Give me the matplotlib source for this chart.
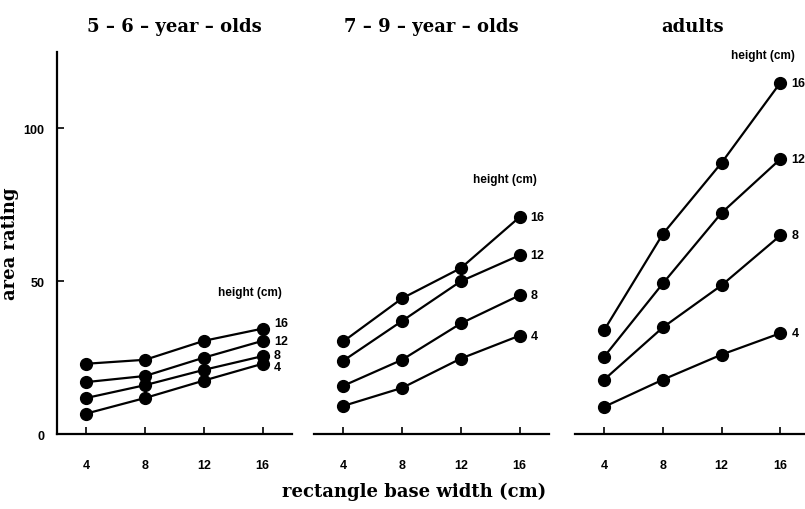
import matplotlib.pyplot as plt

# rectangle base width (cm)
widths = [4, 8, 12, 16]
heights = [16, 12, 8, 4]

titles = ["5 \u2013 6 \u2013 year \u2013 olds", "7 \u2013 9 \u2013 year \u2013 olds", "adults"]

# area ratings, one list per height (16, 12, 8, 4)
young = [[23.0, 24.3, 30.5, 34.5],
         [17.0, 19.0, 25.0, 30.5],
         [11.8, 16.0, 21.0, 25.5],
         [6.7, 11.8, 17.5, 23.0]]
middle = [[30.3, 44.4, 54.3, 71.0],
          [24.0, 37.0, 50.0, 58.5],
          [15.8, 24.3, 36.2, 45.4],
          [9.2, 15.1, 24.7, 32.2]]
adults = [[34.0, 65.5, 88.8, 115.0],
          [25.3, 49.3, 72.4, 90.0],
          [17.8, 34.9, 48.7, 65.0],
          [8.9, 17.8, 26.0, 33.0]]
groups = [young, middle, adults]

# where the "height (cm)" key sits in each panel (data coords)
key_pos = [(15.1, 46.5), (15.0, 83.5), (14.8, 124.0)]
# small vertical nudges (points) for the end labels in the crowded first panel
nudges = [[4, 0, 1, -2], [0, 0, 0, 0], [0, 0, 0, 0]]

serif = ['DejaVu Serif']
narrow = ['Liberation Sans Narrow', 'Liberation Sans', 'DejaVu Sans']

fig = plt.figure(figsize=(8.05, 5.1), dpi=100)
lefts = [0.0708, 0.390, 0.714]

for i in range(3):
    ax = fig.add_axes([lefts[i], 0.147, 0.292, 0.749])
    for series, h, dy in zip(groups[i], heights, nudges[i]):
        ax.plot(widths, series, color='black', lw=1.6, marker='o', ms=8.5,
                clip_on=False, zorder=3)
        ax.annotate(str(h), (widths[-1], series[-1]), xytext=(8, dy),
                    textcoords='offset points', va='center', ha='left',
                    fontsize=9, fontweight='bold', family=narrow)
    ax.text(key_pos[i][0], key_pos[i][1], "height (cm)", ha='center', va='center',
            fontsize=8.5, fontweight='bold', family=narrow, clip_on=False)

    ax.set_xlim(2, 18)
    ax.set_ylim(0, 125)
    ax.set_xticks(widths)
    ax.set_xticklabels([str(w) for w in widths], family=narrow,
                       fontweight='bold', fontsize=9)
    ax.tick_params(axis='x', direction='in', length=5, width=1.2, pad=18)
    for s in ['top', 'right']:
        ax.spines[s].set_visible(False)
    ax.spines['bottom'].set_linewidth(1.6)
    if i == 0:
        ax.set_yticks([0, 50, 100])
        ax.set_yticklabels(['0', '50', '100'], family=narrow,
                           fontweight='bold', fontsize=9)
        ax.tick_params(axis='y', direction='in', length=5, width=1.2, pad=9)
        ax.spines['left'].set_linewidth(1.6)
        ax.set_ylabel("area rating", family=serif, fontweight='bold',
                      fontsize=13, labelpad=3)
    else:
        ax.spines['left'].set_visible(False)
        ax.set_yticks([])
    ax.set_title(titles[i], family=serif, fontweight='bold', fontsize=13, pad=15)

fig.text(0.515, 0.035, "rectangle base width (cm)", ha='center', va='center',
         family=serif, fontweight='bold', fontsize=13)

fig.savefig('out.png', dpi=100)
